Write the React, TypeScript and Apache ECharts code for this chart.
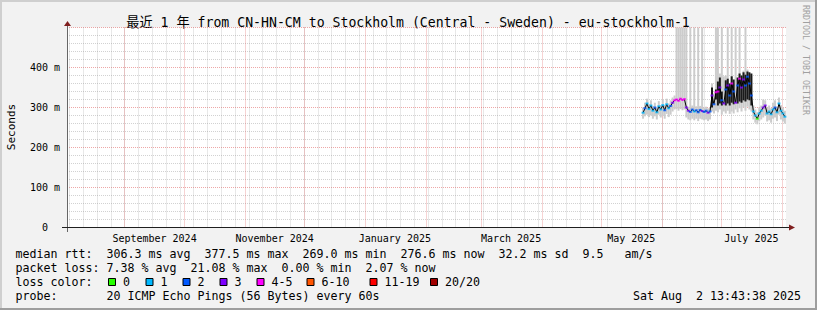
import React, { useEffect, useRef } from "react";
import * as echarts from "echarts";

// ---------- data ----------
const DAY = 86400000;
const xMin = Date.UTC(2024, 7, 2, 13, 43, 38);
const xMax = Date.UTC(2025, 7, 2, 13, 43, 38);
const firstDataDay = Date.UTC(2025, 4, 22); // May 22 2025, one value per day

// median rtt (ms), one per day from May 22 to Aug 2 2025
const median = [
  287, 298, 310, 296, 305, 292, 300, 288, 303, 295, 306, 293, 308, 298, 304,
  312, 318, 320, 317, 322, 319, 321,
  300, 292, 289, 295, 290, 293, 288, 294, 291, 289, 292, 287, 290,
  330, 308, 338, 340, 350, 318, 310, 345, 355, 330, 360, 340, 312, 355, 372, 350, 370, 355, 377, 360, 330,
  290, 280, 272, 285, 292, 300, 305, 285, 290, 283, 295, 300, 288, 310, 292, 285, 277,
];
// loss bucket index per day (0:"0" 1:"1" 2:"2" 3:"3" 4:"4-5" 5:"6-10" 6:"11-19" 7:"20/20")
const lossIdx = [
  1, 2, 1, 1, 1, 1, 2, 1, 1, 1, 1, 2, 1, 1, 2,
  3, 4, 4, 4, 4, 4, 4,
  3, 3, 2, 2, 1, 2, 2, 2, 3, 2, 2, 3, 2,
  3, 2, 4, 4, 3, 2, 3, 2, 3, 2, 4, 2, 3, 2, 4, 3, 3, 2, 2, 2, 2,
  1, 1, 0, 1, 1, 3, 3, 1, 1, 1, 1, 2, 1, 1, 1, 1, 1,
];
// smoke: lowest and highest ping per day (ms); values above 500 run off the top
const smokeLow = [
  272, 278, 282, 276, 280, 272, 278, 270, 282, 275, 280, 272, 284, 276, 282,
  290, 295, 296, 292, 296, 293, 295,
  275, 270, 268, 272, 268, 272, 266, 272, 270, 268, 270, 266, 270,
  290, 285, 292, 288, 295, 282, 290, 285, 292, 284, 290, 285, 295, 288, 298, 290, 300, 292, 302, 295, 290,
  270, 262, 258, 266, 270, 275, 280, 265, 268, 262, 272, 275, 266, 282, 270, 265, 260,
];
const smokeHigh = [
  300, 312, 322, 308, 318, 304, 312, 300, 316, 306, 320, 306, 322, 310, 318,
  325, 330, 600, 600, 600, 600, 600,
  600, 302, 600, 305, 600, 303, 600, 304, 600, 300, 302, 298, 300,
  360, 335, 600, 600, 385, 600, 378, 380, 600, 350, 600, 360, 600, 355, 600, 375, 392, 600, 395, 385, 380,
  305, 295, 288, 300, 305, 320, 318, 300, 305, 298, 312, 318, 302, 325, 306, 300, 292,
];
// dense (dark) smoke band, Jun 26 .. Jul 16 2025
const darkFirstIndex = 35;
const darkLow = [300, null, 320, 305, 310, 305, null, 305, 310, 305, 312, 308, null, 310, 315, 312, 318, 315, 320, 318, 305];
const darkHigh = [350, null, 345, 365, 375, 340, null, 368, 372, 360, 378, 370, null, 375, 385, 380, 388, 382, 390, 388, 385];

const lossLabels = ["0", "1", "2", "3", "4-5", "6-10", "11-19", "20/20"];
const lossColors = ["#26ff00", "#00b8ff", "#0059ff", "#7e00ff", "#ff00ff", "#ff5500", "#ff0000", "#a10000"];

const monthLabels = ["September 2024", "November 2024", "January 2025", "March 2025", "May 2025", "July 2025"];
const monthLabelDates = [
  Date.UTC(2024, 8, 16), Date.UTC(2024, 10, 16), Date.UTC(2025, 0, 16),
  Date.UTC(2025, 2, 16), Date.UTC(2025, 4, 16), Date.UTC(2025, 6, 16),
];
const monthStarts = [
  Date.UTC(2024, 8, 1), Date.UTC(2024, 9, 1), Date.UTC(2024, 10, 1), Date.UTC(2024, 11, 1),
  Date.UTC(2025, 0, 1), Date.UTC(2025, 1, 1), Date.UTC(2025, 2, 1), Date.UTC(2025, 3, 1),
  Date.UTC(2025, 4, 1), Date.UTC(2025, 5, 1), Date.UTC(2025, 6, 1), Date.UTC(2025, 7, 1),
];
const firstSunday = Date.UTC(2024, 7, 4);

const titleText = "最近 1 年 from CN-HN-CM to Stockholm (Central - Sweden) - eu-stockholm-1";
const statLines = [
  "median rtt:  306.3 ms avg  377.5 ms max  269.0 ms min  276.6 ms now  32.2 ms sd  9.5   am/s",
  "packet loss: 7.38 % avg  21.08 % max  0.00 % min  2.07 % now",
  "loss color:",
  "probe:       20 ICMP Echo Pings (56 Bytes) every 60s",
];
const dateText = "Sat Aug  2 13:43:38 2025";

// ---------- layout / style ----------
const MONO = "'DejaVu Sans Mono', 'Noto Sans CJK SC', monospace";
const legendBoxX = [108, 145.5, 182.5, 219.5, 256.5, 306.5, 369.5, 430];
const gridColor = "rgba(143,143,143,0.4)";
const mgridColor = "rgba(222,79,79,0.5)";

export default function App() {
  const ref = useRef<HTMLDivElement>(null);

  useEffect(() => {
    const chart = echarts.init(ref.current!, null, { renderer: "svg" });
    const days = median.map((_, i) => firstDataDay + i * DAY);
    const smokeData = days.map((t, i) => [t, smokeLow[i], smokeHigh[i]]);
    const darkData: number[][] = [];
    darkLow.forEach((lo, k) => {
      if (lo != null && darkHigh[k] != null) darkData.push([days[darkFirstIndex + k], lo, darkHigh[k] as number]);
    });
    const medianData = days.map((t, i) => [t, median[i]]);
    const lossData = days.map((t, i) => [t, median[i], lossIdx[i]]);

    const vGrid: number[][] = [];
    for (let t = firstSunday; t <= xMax; t += 7 * DAY) vGrid.push([t, 0]);
    monthStarts.forEach((t) => vGrid.push([t, 1]));

    const bandRender = (color: string) => (params: any, api: any) => {
      const x = api.value(0);
      const p1 = api.coord([x, api.value(1)]);
      const p2 = api.coord([x, api.value(2)]);
      const rect = echarts.graphic.clipRectByRect(
        { x: p1[0] - 1, y: p2[1], width: 2, height: p1[1] - p2[1] },
        params.coordSys
      );
      if (!rect) return null;
      return { type: "rect", shape: rect, style: { fill: color } };
    };

    const gridRender = (params: any, api: any) => {
      const cs = params.coordSys;
      const px = Math.floor(api.coord([api.value(0), 0])[0]) + 0.5;
      const major = api.value(1) === 1;
      return {
        type: "line",
        shape: { x1: px, y1: cs.y, x2: px, y2: cs.y + cs.height },
        style: { stroke: major ? mgridColor : gridColor, lineWidth: 1, lineDash: [1, 1] },
      };
    };

    const textEl = (text: string, x: number, y: number, size: number, align = "left", extra: any = {}) => ({
      type: "text",
      x,
      y,
      silent: true,
      ...extra,
      style: {
        text,
        fill: extra.fill || "#000",
        font: `${size}px ${MONO}`,
        textAlign: align,
        textVerticalAlign: "middle",
      },
    });

    const graphics: any[] = [
      // frame shading
      { type: "rect", shape: { x: 0, y: 0, width: 817, height: 2 }, style: { fill: "#cfcfcf" }, silent: true },
      { type: "rect", shape: { x: 0, y: 0, width: 2, height: 310 }, style: { fill: "#cfcfcf" }, silent: true },
      { type: "rect", shape: { x: 0, y: 308, width: 817, height: 2 }, style: { fill: "#9e9e9e" }, silent: true },
      { type: "rect", shape: { x: 815, y: 0, width: 2, height: 310 }, style: { fill: "#9e9e9e" }, silent: true },
      // axes
      { type: "line", shape: { x1: 67.5, y1: 232, x2: 67.5, y2: 25 }, style: { stroke: "#666", lineWidth: 1 }, silent: true, z: 50 },
      { type: "polygon", shape: { points: [[64, 26], [71, 26], [67.5, 21]] }, style: { fill: "#801f1f" }, silent: true, z: 50 },
      { type: "line", shape: { x1: 62, y1: 227.5, x2: 790, y2: 227.5 }, style: { stroke: "#1f1f1f", lineWidth: 1 }, silent: true, z: 50 },
      { type: "polygon", shape: { points: [[789, 224.5], [789, 230.5], [795, 227.5]] }, style: { fill: "#801f1f" }, silent: true, z: 50 },
      // texts
      textEl(titleText, 408, 22, 13.2, "center"),
      textEl("Seconds", 11, 127, 11, "center", { rotation: Math.PI / 2 }),
      textEl("RRDTOOL / TOBI OETIKER", 806, 60, 8.3, "center", { rotation: -Math.PI / 2, fill: "#a0a0a0" }),
      textEl(statLines[0], 15.5, 254, 11.63),
      textEl(statLines[1], 15.5, 268, 11.63),
      textEl(statLines[2], 15.5, 282, 11.63),
      textEl(statLines[3], 15.5, 296, 11.63),
      textEl(dateText, 801, 296, 11.63, "right"),
    ];
    lossLabels.forEach((lab, i) => {
      graphics.push({
        type: "rect",
        shape: { x: legendBoxX[i] + 0.5, y: 278.5, width: 7, height: 7 },
        style: { fill: lossColors[i], stroke: "#000", lineWidth: 1 },
        silent: true,
      });
      graphics.push(textEl(lab, legendBoxX[i] + 15, 282, 11.63));
    });

    chart.setOption({
      animation: false,
      backgroundColor: "#f2f2f2",
      grid: { left: 67, right: 31, top: 27.5, bottom: 82.5, show: true, backgroundColor: "#ffffff", borderWidth: 0 },
      xAxis: [
        {
          type: "value", min: xMin, max: xMax,
          axisLine: { show: false }, axisTick: { show: false }, axisLabel: { show: false }, splitLine: { show: false },
        },
        {
          type: "value", min: xMin, max: xMax, position: "bottom",
          axisLine: { show: false }, axisTick: { show: false }, splitLine: { show: false },
          axisLabel: {
            customValues: monthLabelDates,
            formatter: (v: number) => {
              const k = monthLabelDates.indexOf(v);
              return k >= 0 ? monthLabels[k] : "";
            },
            fontFamily: MONO, fontSize: 10, color: "#000", margin: 6, hideOverlap: false,
          },
        },
      ],
      yAxis: {
        type: "value", min: 0, max: 500, interval: 100,
        axisLine: { show: false }, axisTick: { show: false },
        axisLabel: {
          formatter: (v: number) => (v === 0 ? "0\u00a0\u00a0" : `${v} m`),
          showMaxLabel: false, margin: 7, fontFamily: MONO, fontSize: 10, color: "#000",
        },
        splitLine: { show: true, lineStyle: { color: mgridColor, type: [1, 1], width: 1 } },
        minorTick: { show: false, splitNumber: 5 },
        minorSplitLine: { show: true, lineStyle: { color: gridColor, type: [1, 1], width: 1 } },
      },
      series: [
        { type: "custom", data: vGrid, renderItem: gridRender, z: 1, silent: true },
        { type: "custom", data: smokeData, renderItem: bandRender("#cccccc"), z: 2, silent: true },
        { type: "custom", data: darkData, renderItem: bandRender("#1a1a1a"), z: 3, silent: true },
        {
          type: "line", data: medianData, symbol: "none", z: 4, silent: true,
          lineStyle: { color: "#000", width: 1 },
        },
        {
          type: "scatter", data: lossData, symbol: "rect", symbolSize: [3, 2], z: 5, silent: true,
          itemStyle: { color: (p: any) => lossColors[p.value[2]] },
        },
      ],
      graphic: graphics,
    });
    return () => chart.dispose();
  }, []);

  return (
    <>
      <style>{"svg text { white-space: pre; }"}</style>
      <div ref={ref} style={{ position: "absolute", left: 0, top: 0, width: 817, height: 310 }} />
    </>
  );
}
